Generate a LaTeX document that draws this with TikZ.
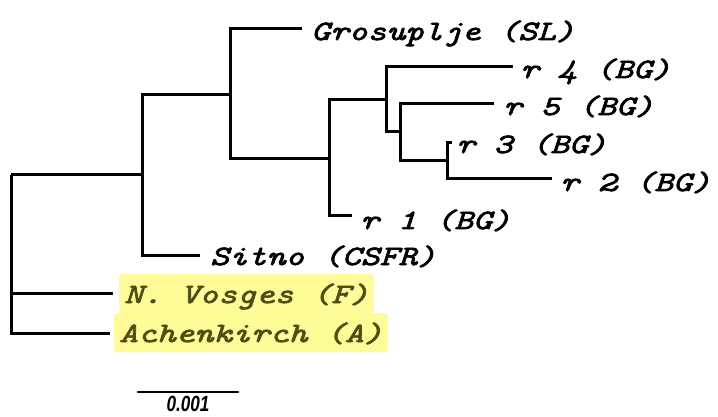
\documentclass[tikz,border=0pt]{standalone}
\usepackage{fontspec}
\usepackage{tikz}
\usetikzlibrary{positioning}
\newfontfamily\labelfont[FakeStretch=1.28, FakeBold=2.6]{Latin Modern Mono}
\newfontfamily\barfont[FakeStretch=0.78]{Liberation Sans}
\definecolor{hilite}{RGB}{255,251,150}
\definecolor{hltext}{RGB}{78,78,20}
\tikzset{
  branch/.style={line width=3pt},
  leaf/.style={anchor=base west, inner sep=0pt, font=\labelfont\fontsize{28}{30}\selectfont\itshape},
  marked/.style={leaf, fill=hilite, text=hltext, inner xsep=5pt, inner ysep=5pt,
    text height=24pt, text depth=5pt, rounded corners=3pt},
}
\begin{document}
\begin{tikzpicture}[x=1pt, y=-1pt]
            \useasboundingbox (0,0) rectangle (718,417);

            % inner nodes of the tree
            \coordinate (root) at (11, 175);
            \coordinate (na) at (142, 175);
            \coordinate (nb) at (230, 95);
            \coordinate (nc) at (329, 159);
            \coordinate (nd) at (386, 100);
            \coordinate (ne) at (400, 132);
            \coordinate (nf) at (447, 161);

            % branch tips
            \coordinate (tgro) at (302, 29);
            \coordinate (tr4) at (513, 67);
            \coordinate (tr5) at (494, 104);
            \coordinate (tr3) at (452, 143);
            \coordinate (tr2) at (552, 179);
            \coordinate (tr1) at (352, 215);
            \coordinate (tsit) at (200, 255);
            \coordinate (tnv) at (113, 293);
            \coordinate (tach) at (110, 333);

            % labels
            \node[marked] (nvos) at (119, 303) {N. Vosges (F)};
            \node[marked] (ach) at (114, 342) {Achenkirch (A)};
            \node[leaf] (gro) at (311, 40) {Grosuplje (SL)};
            \node[leaf] (r4) at (520, 78) {r 4 (BG)};
            \node[leaf] (r5) at (503, 115) {r 5 (BG)};
            \node[leaf] (r3) at (456, 153) {r 3 (BG)};
            \node[leaf] (r2) at (560, 191) {r 2 (BG)};
            \node[leaf] (r1) at (360, 229) {r 1 (BG)};
            \node[leaf] (sit) at (210, 265) {Sitno (CSFR)};

            % branches
            \draw[branch] (root) |- (na) (root) |- (tnv) (root) |- (tach);
            \draw[branch] (na) |- (nb) (na) |- (tsit);
            \draw[branch] (nb) |- (tgro) (nb) |- (nc);
            \draw[branch] (nc) |- (nd) (nc) |- (tr1);
            \draw[branch] (nd) |- (tr4) (nd) |- (ne);
            \draw[branch] (ne) |- (tr5) (ne) |- (nf);
            \draw[branch] (nf) |- (tr3) (nf) |- (tr2);

            % scale bar
            \coordinate (s0) at (138, 392);
            \coordinate (s1) at (238, 392);
            \draw[line width=2.6pt, line cap=round] (s0) -- node[below=0pt, font=\barfont\fontsize{22}{23}\selectfont\bfseries\itshape] (scl) {0.001} (s1);
        \end{tikzpicture}
\end{document}
